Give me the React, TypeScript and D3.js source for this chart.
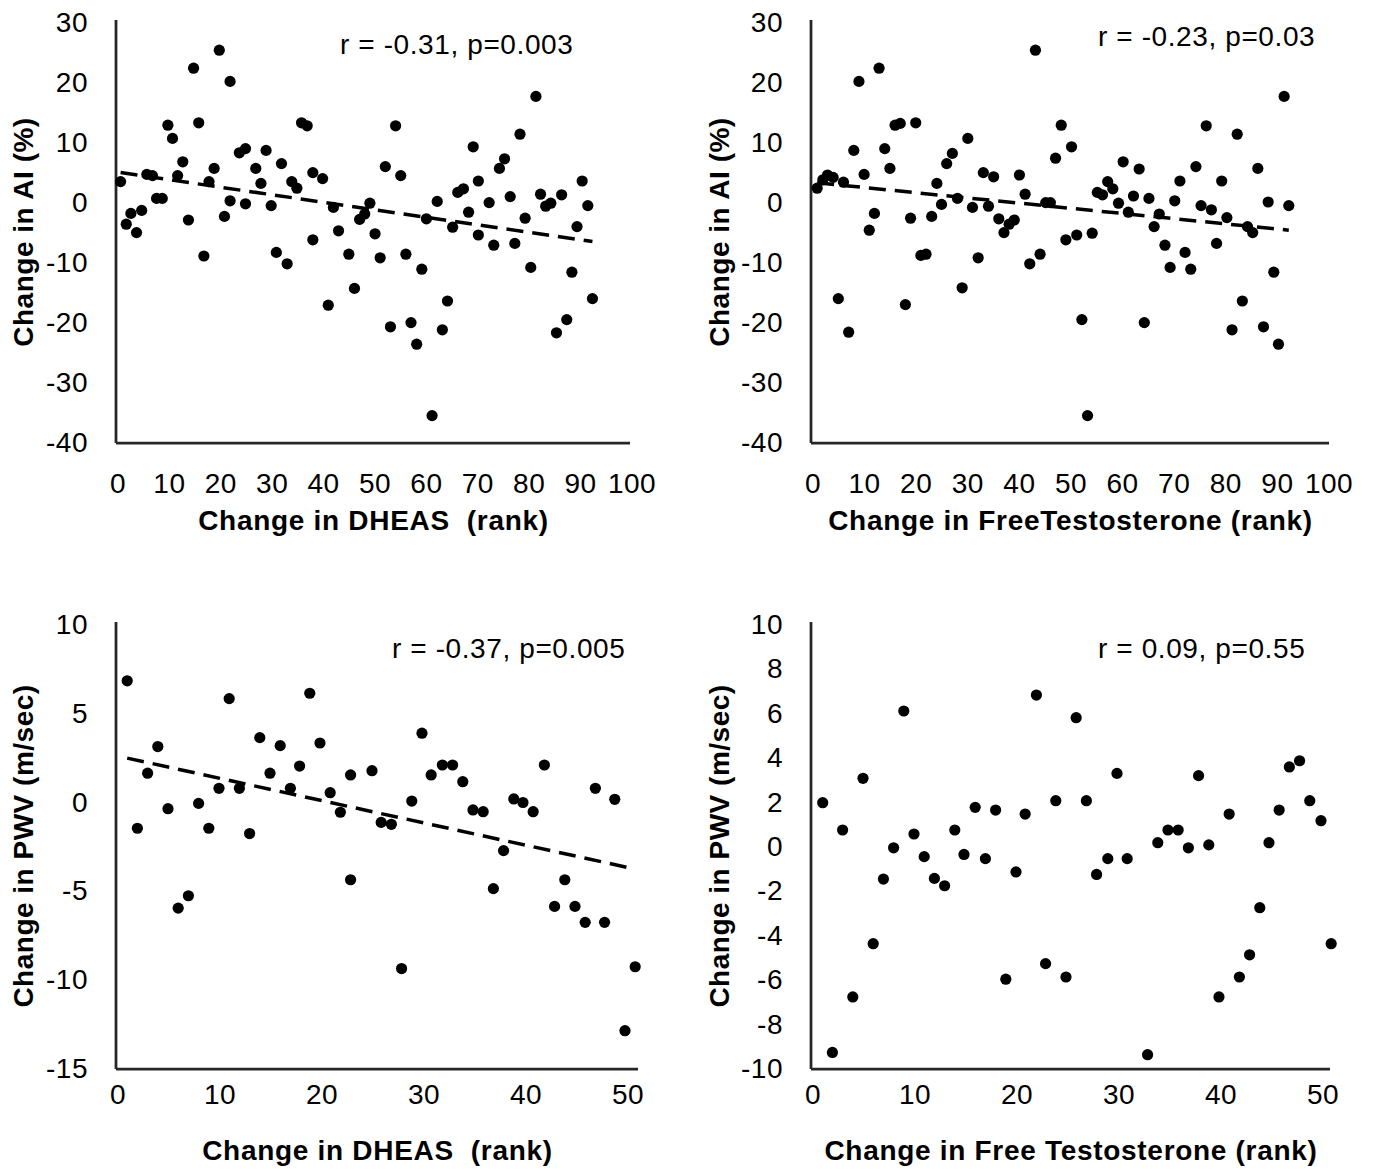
import React from 'react';
import * as d3 from 'd3';

// top left: change in AI against change in DHEAS (rank)
const aiDheasRank = [0.7, 1.8, 2.7, 3.8, 4.8, 5.8, 6.9, 7.7, 8.8, 9.9, 10.8, 11.8, 12.8, 13.9, 14.9, 15.9, 16.9, 17.9, 18.9, 19.9, 20.9, 22.0, 22.0, 23.8, 25.0, 25.0, 27.0, 28.0, 29.0, 30.0, 31.0, 32.0, 33.1, 34.0, 35.0, 35.9, 37.0, 38.1, 38.1, 40.0, 41.1, 42.1, 43.1, 45.1, 46.2, 47.2, 48.2, 49.2, 50.2, 51.2, 52.2, 53.2, 54.2, 55.2, 56.2, 57.2, 58.3, 59.3, 60.2, 61.3, 62.3, 63.3, 64.3, 65.3, 66.3, 67.4, 68.4, 69.3, 70.3, 70.3, 72.4, 73.3, 74.4, 75.4, 76.5, 77.4, 78.4, 79.4, 80.5, 81.5, 82.4, 83.4, 84.4, 85.5, 86.5, 87.5, 88.5, 89.5, 90.5, 91.6, 92.5];
const aiDheasChange = [3.4, -3.7, -1.9, -5.1, -1.4, 4.6, 4.4, 0.6, 0.6, 12.8, 10.6, 4.4, 6.7, -3.0, 22.3, 13.2, -9.0, 3.4, 5.6, 25.3, -2.4, 20.1, 0.2, 8.2, 8.9, -0.3, 5.6, 3.1, 8.6, -0.6, -8.4, 6.4, -10.3, 3.4, 2.3, 13.2, 12.7, -6.3, 4.9, 3.9, -17.2, -0.9, -4.8, -8.7, -14.4, -2.9, -2.0, -0.2, -5.3, -9.3, 5.9, -20.8, 12.7, 4.4, -8.7, -20.1, -23.7, -11.2, -2.8, -35.6, 0.1, -21.3, -16.5, -4.2, 1.6, 2.2, -1.7, 9.2, 3.5, -5.5, -0.1, -7.2, 5.6, 7.2, 0.9, -6.9, 11.3, -2.7, -10.9, 17.6, 1.3, -0.7, -0.2, -21.8, 1.2, -19.6, -11.7, -4.1, 3.5, -0.6, -16.1];
const aiDheasTrend = [[0.7, 4.9], [92.5, -6.6]];

// top right: change in AI against change in free testosterone (rank)
const aiTestoRank = [1.0, 2.1, 3.0, 4.1, 5.1, 6.1, 7.1, 8.1, 9.1, 10.1, 11.1, 12.1, 13.0, 14.1, 15.1, 16.1, 17.1, 18.1, 19.1, 20.1, 21.1, 22.1, 23.2, 24.2, 25.1, 26.1, 27.2, 28.2, 29.1, 30.2, 31.1, 32.2, 33.2, 34.2, 35.2, 36.2, 37.2, 38.2, 39.2, 40.2, 41.3, 42.2, 43.3, 44.2, 45.3, 46.2, 47.2, 48.3, 49.2, 50.3, 51.3, 52.3, 53.4, 54.3, 55.3, 56.3, 57.3, 58.3, 59.4, 60.3, 61.3, 62.3, 63.4, 64.4, 65.3, 66.3, 67.3, 68.4, 69.4, 70.3, 71.3, 72.3, 73.4, 74.4, 75.4, 76.4, 77.4, 78.4, 79.4, 80.4, 81.4, 82.4, 83.4, 84.4, 85.4, 86.4, 87.5, 88.4, 89.5, 90.4, 91.5, 92.4];
const aiTestoChange = [2.3, 3.7, 4.5, 4.1, -16.1, 3.3, -21.7, 8.6, 20.1, 4.6, -4.7, -1.9, 22.3, 8.9, 5.6, 12.8, 13.1, -17.1, -2.7, 13.2, -8.9, -8.7, -2.4, 3.1, -0.4, 6.4, 8.1, 0.6, -14.3, 10.6, -0.9, -9.3, 4.9, -0.7, 4.2, -2.8, -5.1, -3.7, -3.0, 4.5, 1.3, -10.3, 25.3, -8.7, -0.1, -0.1, 7.3, 12.8, -6.3, 9.2, -5.5, -19.6, -35.6, -5.2, 1.6, 1.2, 3.4, 2.2, -0.2, 6.7, -1.7, 1.0, 5.5, -20.1, 0.6, -4.1, -2.0, -7.2, -10.9, 0.2, 3.5, -8.4, -11.2, 5.9, -0.6, 12.7, -1.3, -6.9, 3.5, -2.6, -21.3, 11.3, -16.5, -4.1, -5.1, 5.6, -20.8, 0.0, -11.7, -23.7, 17.6, -0.6];
const aiTestoTrend = [[1.0, 3.2], [92.4, -4.7]];

// bottom left: change in PWV against change in DHEAS (rank)
const pwvDheasRank = [1.0, 2.0, 3.0, 4.0, 5.0, 6.0, 7.0, 8.0, 9.0, 10.0, 11.0, 12.0, 13.0, 14.0, 15.0, 16.0, 17.0, 17.9, 18.9, 19.9, 20.9, 21.9, 22.9, 22.9, 25.0, 25.9, 26.9, 27.9, 28.9, 29.9, 30.8, 31.9, 32.9, 33.9, 34.9, 35.9, 36.9, 37.9, 38.9, 39.8, 40.8, 41.9, 42.9, 43.9, 44.9, 45.9, 46.9, 47.8, 48.8, 49.8, 50.8];
const pwvDheasChange = [6.8, -1.5, 1.6, 3.1, -0.4, -6.0, -5.3, -0.1, -1.5, 0.75, 5.8, 0.75, -1.8, 3.6, 1.6, 3.15, 0.75, 2.0, 6.1, 3.3, 0.5, -0.6, -4.4, 1.5, 1.74, -1.17, -1.28, -9.4, 0.03, 3.85, 1.5, 2.06, 2.06, 1.12, -0.47, -0.57, -4.9, -2.76, 0.15, -0.05, -0.57, 2.06, -5.9, -4.4, -5.9, -6.8, 0.75, -6.8, 0.13, -12.9, -9.3];
const pwvDheasTrend = [[1.0, 2.45], [50.8, -3.8]];

// bottom right: change in PWV against change in free testosterone (rank)
const pwvTestoRank = [1.05, 2.0, 3.0, 4.0, 5.0, 6.0, 7.0, 8.0, 9.0, 10.0, 11.0, 12.0, 13.0, 14.0, 14.9, 16.0, 17.0, 18.0, 19.0, 20.0, 20.9, 22.0, 22.9, 23.9, 24.9, 25.9, 26.9, 27.9, 29.0, 29.9, 30.9, 32.9, 33.9, 34.9, 35.9, 36.9, 37.9, 38.9, 39.9, 40.9, 41.9, 42.9, 43.9, 44.8, 45.8, 46.8, 47.8, 48.8, 49.9, 50.9];
const pwvTestoChange = [1.95, -9.3, 0.72, -6.8, 3.05, -4.4, -1.49, -0.08, 6.08, 0.54, -0.48, -1.46, -1.79, 0.72, -0.38, 1.74, -0.57, 1.62, -6.0, -1.17, 1.44, 6.8, -5.3, 2.04, -5.9, 5.78, 2.04, -1.28, -0.57, 3.27, -0.57, -9.4, 0.15, 0.72, 0.72, -0.08, 3.17, 0.05, -6.8, 1.44, -5.9, -4.9, -2.78, 0.15, 1.62, 3.56, 3.84, 2.04, 1.14, -4.4];

const rankTicks100 = [0, 10, 20, 30, 40, 50, 60, 70, 80, 90, 100];
const rankTicks50 = [0, 10, 20, 30, 40, 50];
const aiTicks = [30, 20, 10, 0, -10, -20, -30, -40];
const pwvTicksBy5 = [10, 5, 0, -5, -10, -15];
const pwvTicksBy2 = [10, 8, 6, 4, 2, 0, -2, -4, -6, -8, -10];

const FONT = '"Liberation Sans", Arial, Helvetica, sans-serif';
const INK = '#000';
const AXIS = '#262626';

function Panel(props) {
  const { xs, ys, trend, xDomain, xRange, yDomain, yRange, axisEnd,
          xTicks, yTicks, xTitle, yTitle, yTitleX, tickY, titleY, stat, statX, statY } = props;

  const x = d3.scaleLinear().domain(xDomain).range(xRange);
  const y = d3.scaleLinear().domain(yDomain).range(yRange);
  const ax = x(xDomain[0]) - 1;
  const ay = y(yDomain[1]) + 1;
  const line = d3.line().x(d => x(d[0])).y(d => y(d[1]));

  return (
    <g>
      <line x1={ax} x2={ax} y1={yRange[0] - 2} y2={ay} stroke={AXIS} strokeWidth={2.75} />
      <line x1={ax} x2={axisEnd} y1={ay} y2={ay} stroke={AXIS} strokeWidth={2.75} />

      {yTicks.map(t => (
        <text key={'y' + t} x={ax - 28} y={y(t)} dy="0.36em" textAnchor="end"
              fontSize={28} letterSpacing={0.5} fill={INK}>{t}</text>
      ))}
      {xTicks.map(t => (
        <text key={'x' + t} x={x(t) + 1} y={tickY} dy="0.36em" textAnchor="middle"
              fontSize={28} letterSpacing={0.5} fill={INK}>{t}</text>
      ))}

      <text x={(x(xDomain[0]) + axisEnd) / 2} y={titleY} dy="0.36em" textAnchor="middle"
            fontSize={28} fontWeight="bold" letterSpacing={0.7} fill={INK}
            style={{ whiteSpace: 'pre' }}>{xTitle}</text>
      <text transform={`translate(${yTitleX},${(yRange[0] + yRange[1]) / 2}) rotate(-90)`}
            textAnchor="middle" fontSize={28} fontWeight="bold" letterSpacing={0.5} fill={INK}
            style={{ whiteSpace: 'pre' }}>{yTitle}</text>

      <text x={statX} y={statY} fontSize={28} letterSpacing={0.6} fill={INK}>{stat}</text>

      {xs.map((v, i) => (
        <circle key={i} cx={x(v)} cy={y(ys[i])} r={5.6} fill={INK} />
      ))}

      {trend && (
        <path d={line(trend)} fill="none" stroke={INK} strokeWidth={3.5} strokeDasharray="17,9" />
      )}
    </g>
  );
}

export default function App() {
  return (
    <div style={{ position: 'absolute', left: 0, top: 0 }}>
      <svg width={1373} height={1169} style={{ display: 'block', fontFamily: FONT, background: '#fff' }}>
        <Panel xs={aiDheasRank} ys={aiDheasChange} trend={aiDheasTrend}
               xDomain={[0, 100]} xRange={[117, 631]} yDomain={[30, -40]} yRange={[22, 442]}
               axisEnd={630} xTicks={rankTicks100} yTicks={aiTicks}
               xTitle="Change in DHEAS  (rank)" yTitle="Change in AI (%)" yTitleX={33}
               tickY={483} titleY={520} stat="r = -0.31, p=0.003" statX={340} statY={54} />
        <Panel xs={aiTestoRank} ys={aiTestoChange} trend={aiTestoTrend}
               xDomain={[0, 100]} xRange={[812, 1328]} yDomain={[30, -40]} yRange={[22, 442]}
               axisEnd={1329} xTicks={rankTicks100} yTicks={aiTicks}
               xTitle="Change in FreeTestosterone (rank)" yTitle="Change in AI (%)" yTitleX={729}
               tickY={483} titleY={520} stat="r = -0.23, p=0.03" statX={1098} statY={46} />
        <Panel xs={pwvDheasRank} ys={pwvDheasChange} trend={pwvDheasTrend}
               xDomain={[0, 50]} xRange={[117, 627]} yDomain={[10, -15]} yRange={[624, 1068]}
               axisEnd={638} xTicks={rankTicks50} yTicks={pwvTicksBy5}
               xTitle="Change in DHEAS  (rank)" yTitle="Change in PWV (m/sec)" yTitleX={33}
               tickY={1094} titleY={1150} stat="r = -0.37, p=0.005" statX={392} statY={658} />
        <Panel xs={pwvTestoRank} ys={pwvTestoChange} trend={null}
               xDomain={[0, 50]} xRange={[812, 1322]} yDomain={[10, -10]} yRange={[624, 1068]}
               axisEnd={1330} xTicks={rankTicks50} yTicks={pwvTicksBy2}
               xTitle="Change in Free Testosterone (rank)" yTitle="Change in PWV (m/sec)" yTitleX={729}
               tickY={1094} titleY={1150} stat="r = 0.09, p=0.55" statX={1098} statY={658} />
      </svg>
    </div>
  );
}
